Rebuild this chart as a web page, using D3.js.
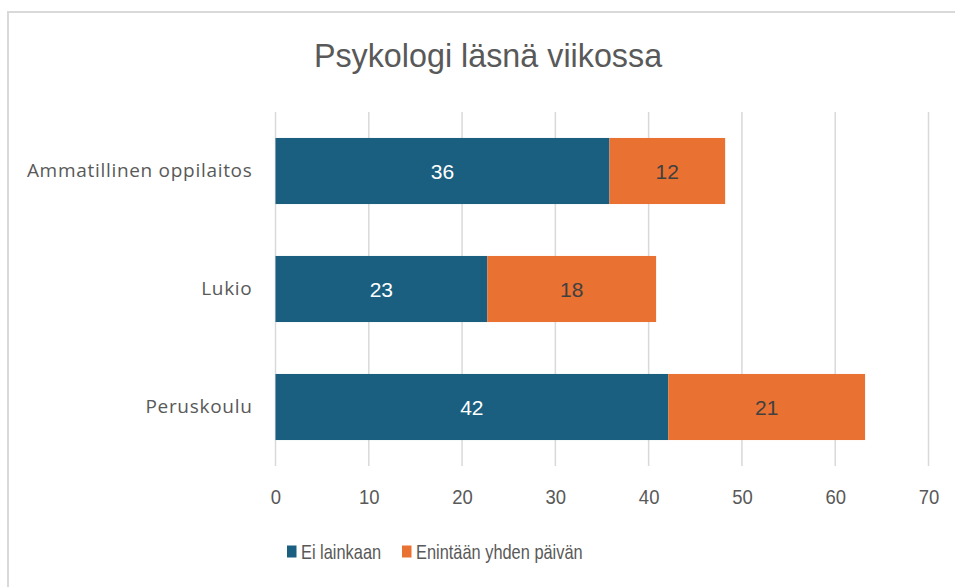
<!DOCTYPE html>
<html>
<head>
<meta charset="utf-8">
<script src="https://cdn.jsdelivr.net/npm/d3@7"></script>
<style>
  body { margin: 0; background: #fff; }
  svg { display: block; }
</style>
</head>
<body>
<script>
// data
const categories = ["Ammatillinen oppilaitos", "Lukio", "Peruskoulu"];
const seriesNames = ["Ei lainkaan", "Enintään yhden päivän"];
const eiLainkaan = [35.8, 22.7, 42.1];
const enintaanYksi = [12.4, 18.1, 21.1];
const xTicks = [0, 10, 20, 30, 40, 50, 60, 70];
const colors = ["#1a5f80", "#e97132"];

const w = 955, h = 587;
const plotLeft = 275.5, plotRight = 928.5, plotTop = 112, plotBottom = 466;
const sans = "'Liberation Sans', Arial, sans-serif";

const svg = d3.select("body").append("svg").attr("width", w).attr("height", h);

// ramme
svg.append("rect")
  .attr("x", 8).attr("y", 12)
  .attr("width", w + 10).attr("height", h + 10)
  .attr("fill", "#fff")
  .attr("stroke", "#d9d9d9").attr("stroke-width", 2);

const x = d3.scaleLinear().domain([0, 70]).range([plotLeft, plotRight]);
const y = d3.scaleBand().domain(categories).range([plotTop, plotBottom]).paddingInner(0.44).paddingOuter(0.22);

// gridlines
svg.append("g").selectAll("line").data(xTicks).join("line")
  .attr("x1", d => x(d)).attr("x2", d => x(d))
  .attr("y1", plotTop).attr("y2", plotBottom)
  .attr("stroke", "#d9d9d9").attr("stroke-width", 1.5);

// title (smal skrift -> skaleret vandret)
svg.append("text")
  .attr("text-anchor", "middle")
  .attr("transform", "translate(488,67) scale(0.95,1)")
  .style("font-family", sans).style("font-size", "34px")
  .attr("fill", "#595959")
  .text("Psykologi läsnä viikossa");

// stacked data
const rows = categories.map((c, i) => ({ cat: c, v: [eiLainkaan[i], enintaanYksi[i]] }));
const stack = d3.stack().keys([0, 1]).value((d, k) => d.v[k]);
const layers = stack(rows);

layers.forEach((layer, k) => {
  const g = svg.append("g");
  g.selectAll("rect").data(layer).join("rect")
    .attr("x", d => x(d[0]))
    .attr("y", d => y(d.data.cat))
    .attr("width", d => x(d[1]) - x(d[0]))
    .attr("height", y.bandwidth())
    .attr("fill", colors[k]);
  g.selectAll("text").data(layer).join("text")
    .attr("x", d => (x(d[0]) + x(d[1])) / 2)
    .attr("y", d => y(d.data.cat) + y.bandwidth() / 2)
    .attr("dy", "0.36em")
    .attr("text-anchor", "middle")
    .style("font-family", sans).style("font-size", "21px")
    .attr("fill", k === 0 ? "#ffffff" : "#404040")
    .text(d => Math.round(d[1] - d[0]));
});

// y axis labels
const yAxis = d3.axisLeft(y).tickSize(0).tickPadding(23);
const yg = svg.append("g").attr("transform", "translate(" + plotLeft + ",0)").call(yAxis);
yg.select(".domain").remove();
yg.selectAll("text")
  .style("font-family", "'Open Sans', sans-serif").style("font-size", "19px")
  .style("letter-spacing", "0.7px")
  .attr("fill", "#595959");

// x axis labels
const xAxis = d3.axisBottom(x).tickValues(xTicks).tickSize(0).tickPadding(23);
const xg = svg.append("g").attr("transform", "translate(0," + plotBottom + ")").call(xAxis);
xg.select(".domain").remove();
xg.selectAll("text")
  .style("font-family", sans).style("font-size", "21px")
  .attr("transform", "scale(0.88,1)")
  .attr("fill", "#595959");

// legend
const legendX = [287, 402];
seriesNames.forEach((name, k) => {
  svg.append("rect")
    .attr("x", legendX[k]).attr("y", 545.5)
    .attr("width", 9.5).attr("height", 12)
    .attr("fill", colors[k]);
  svg.append("text")
    .attr("transform", "translate(" + (legendX[k] + 14) + ",552) scale(0.82,1)")
    .attr("dy", "0.35em")
    .style("font-family", sans).style("font-size", "20px")
    .attr("fill", "#595959")
    .text(name);
});
</script>
</body>
</html>
